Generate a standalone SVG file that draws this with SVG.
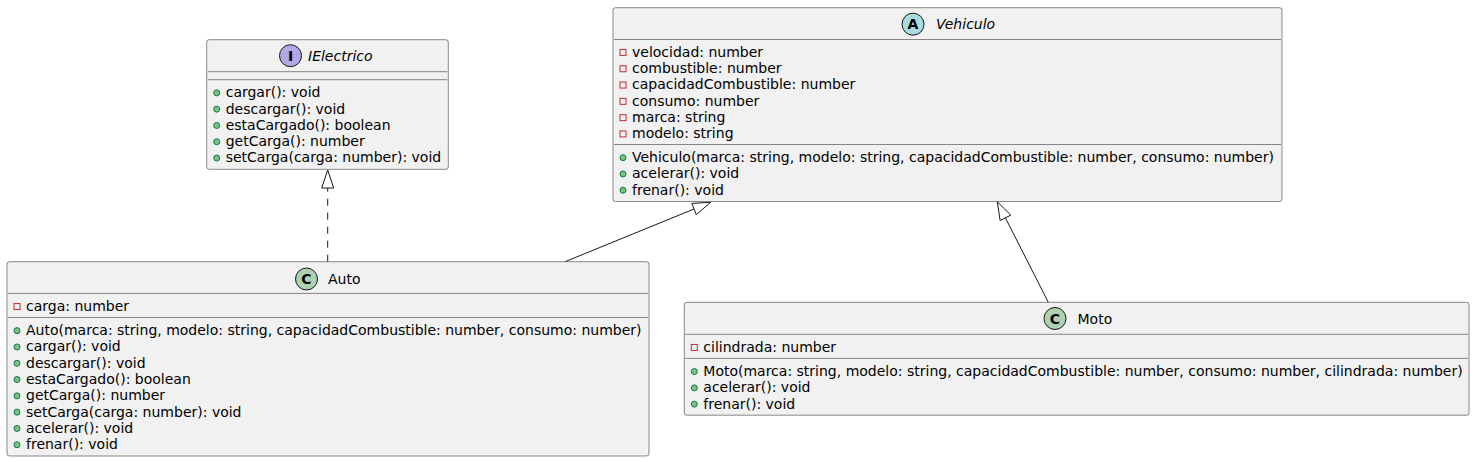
<svg xmlns="http://www.w3.org/2000/svg" width="1475" height="462" viewBox="0 0 1475 462">
<style>
  .box { fill: #F1F1F1; stroke: #181818; stroke-width: 0.5; }
  .sep { stroke: #181818; stroke-width: 0.5; }
  .t { font-family: "DejaVu Sans", "Liberation Sans", sans-serif; font-size: 14px; fill: #000000; }
  .ti { font-family: "DejaVu Sans", "Liberation Sans", sans-serif; font-size: 14px; font-style: italic; fill: #000000; }
  .ic { font-family: "DejaVu Sans", "Liberation Sans", sans-serif; font-size: 14px; font-weight: bold; fill: #000000; text-anchor: middle; }
  .pub { fill: #84BE84; stroke: #038048; stroke-width: 1; }
  .priv { fill: none; stroke: #C82930; stroke-width: 1; }
  .circ { stroke: #181818; stroke-width: 1; }
  .edge { fill: none; stroke: #181818; stroke-width: 1; }
  .head { fill: none; stroke: #181818; stroke-width: 1; }
</style>

<g id="connectors">
  <line class="edge" x1="327.7" y1="261.7" x2="327.7" y2="188" stroke-dasharray="7,7"/>
  <polygon class="head" points="327.7,170 321.7,188 333.7,188"/>
  <line class="edge" x1="565" y1="261.7" x2="694" y2="209"/>
  <polygon class="head" points="710.7,202.3 691.8,203.4 696.3,214.6"/>
  <line class="edge" x1="1048.3" y1="302.3" x2="1005.4" y2="217.8"/>
  <polygon class="head" points="997.3,201.7 1010.8,215.1 1000.1,220.5"/>
</g>

<g id="IElectrico">
  <rect class="box" x="206.7" y="39.7" width="241.6" height="129.6" rx="2.5" ry="2.5"/>
  <circle class="circ" cx="290.5" cy="55.7" r="11" fill="#B4A7E5"/>
  <text class="ic" x="290.5" y="60.8">I</text>
  <text class="ti" x="308" y="60.8">IElectrico</text>
  <line class="sep" x1="207.7" y1="71.7" x2="447.3" y2="71.7"/>
  <line class="sep" x1="207.7" y1="79.7" x2="447.3" y2="79.7"/>
  <circle class="pub" cx="216.7" cy="92.85" r="3"/>
  <text class="t" x="225.7" y="97.2">cargar(): void</text>
  <circle class="pub" cx="216.7" cy="109.15" r="3"/>
  <text class="t" x="225.7" y="113.5">descargar(): void</text>
  <circle class="pub" cx="216.7" cy="125.45" r="3"/>
  <text class="t" x="225.7" y="129.8">estaCargado(): boolean</text>
  <circle class="pub" cx="216.7" cy="141.75" r="3"/>
  <text class="t" x="225.7" y="146.1">getCarga(): number</text>
  <circle class="pub" cx="216.7" cy="158.05" r="3"/>
  <text class="t" x="225.7" y="162.4">setCarga(carga: number): void</text>
</g>

<g id="Vehiculo">
  <rect class="box" x="613" y="7.7" width="669" height="193.8" rx="2.5" ry="2.5"/>
  <circle class="circ" cx="913" cy="24.2" r="11" fill="#A9DCDF"/>
  <text class="ic" x="913" y="29.3">A</text>
  <text class="ti" x="936" y="29.3">Vehiculo</text>
  <line class="sep" x1="614" y1="39.5" x2="1281" y2="39.5"/>
  <rect class="priv" x="620" y="49.45" width="6" height="6"/>
  <text class="t" x="632" y="56.8">velocidad: number</text>
  <rect class="priv" x="620" y="65.75" width="6" height="6"/>
  <text class="t" x="632" y="73.1">combustible: number</text>
  <rect class="priv" x="620" y="82.05" width="6" height="6"/>
  <text class="t" x="632" y="89.4">capacidadCombustible: number</text>
  <rect class="priv" x="620" y="98.35" width="6" height="6"/>
  <text class="t" x="632" y="105.7">consumo: number</text>
  <rect class="priv" x="620" y="114.65" width="6" height="6"/>
  <text class="t" x="632" y="122">marca: string</text>
  <rect class="priv" x="620" y="130.95" width="6" height="6"/>
  <text class="t" x="632" y="138.3">modelo: string</text>
  <line class="sep" x1="614" y1="144.5" x2="1281" y2="144.5"/>
  <circle class="pub" cx="623" cy="157.65" r="3"/>
  <text class="t" x="632" y="162">Vehiculo(marca: string, modelo: string, capacidadCombustible: number, consumo: number)</text>
  <circle class="pub" cx="623" cy="173.95" r="3"/>
  <text class="t" x="632" y="178.3">acelerar(): void</text>
  <circle class="pub" cx="623" cy="190.25" r="3"/>
  <text class="t" x="632" y="194.6">frenar(): void</text>
</g>

<g id="Auto">
  <rect class="box" x="7" y="261.7" width="642" height="194.3" rx="2.5" ry="2.5"/>
  <circle class="circ" cx="306.5" cy="279" r="11" fill="#ADD1B2"/>
  <text class="ic" x="306.5" y="284.1">C</text>
  <text class="t" x="328" y="284">Auto</text>
  <line class="sep" x1="8" y1="293.4" x2="648" y2="293.4"/>
  <rect class="priv" x="14" y="303.55" width="6" height="6"/>
  <text class="t" x="26" y="310.9">carga: number</text>
  <line class="sep" x1="8" y1="317.5" x2="648" y2="317.5"/>
  <circle class="pub" cx="17" cy="330.65" r="3"/>
  <text class="t" x="26" y="335">Auto(marca: string, modelo: string, capacidadCombustible: number, consumo: number)</text>
  <circle class="pub" cx="17" cy="346.95" r="3"/>
  <text class="t" x="26" y="351.3">cargar(): void</text>
  <circle class="pub" cx="17" cy="363.25" r="3"/>
  <text class="t" x="26" y="367.6">descargar(): void</text>
  <circle class="pub" cx="17" cy="379.55" r="3"/>
  <text class="t" x="26" y="383.9">estaCargado(): boolean</text>
  <circle class="pub" cx="17" cy="395.85" r="3"/>
  <text class="t" x="26" y="400.2">getCarga(): number</text>
  <circle class="pub" cx="17" cy="412.15" r="3"/>
  <text class="t" x="26" y="416.5">setCarga(carga: number): void</text>
  <circle class="pub" cx="17" cy="428.45" r="3"/>
  <text class="t" x="26" y="432.8">acelerar(): void</text>
  <circle class="pub" cx="17" cy="444.75" r="3"/>
  <text class="t" x="26" y="449.1">frenar(): void</text>
</g>

<g id="Moto">
  <rect class="box" x="684.3" y="302.3" width="784.7" height="112.9" rx="2.5" ry="2.5"/>
  <circle class="circ" cx="1055" cy="318.5" r="11" fill="#ADD1B2"/>
  <text class="ic" x="1055" y="323.6">C</text>
  <text class="t" x="1077.5" y="323.5">Moto</text>
  <line class="sep" x1="685.3" y1="334.3" x2="1468" y2="334.3"/>
  <rect class="priv" x="691.3" y="344.45" width="6" height="6"/>
  <text class="t" x="703.3" y="351.8">cilindrada: number</text>
  <line class="sep" x1="685.3" y1="358.4" x2="1468" y2="358.4"/>
  <circle class="pub" cx="694.3" cy="371.55" r="3"/>
  <text class="t" x="703.3" y="375.9">Moto(marca: string, modelo: string, capacidadCombustible: number, consumo: number, cilindrada: number)</text>
  <circle class="pub" cx="694.3" cy="387.85" r="3"/>
  <text class="t" x="703.3" y="392.2">acelerar(): void</text>
  <circle class="pub" cx="694.3" cy="404.15" r="3"/>
  <text class="t" x="703.3" y="408.5">frenar(): void</text>
</g>
</svg>
